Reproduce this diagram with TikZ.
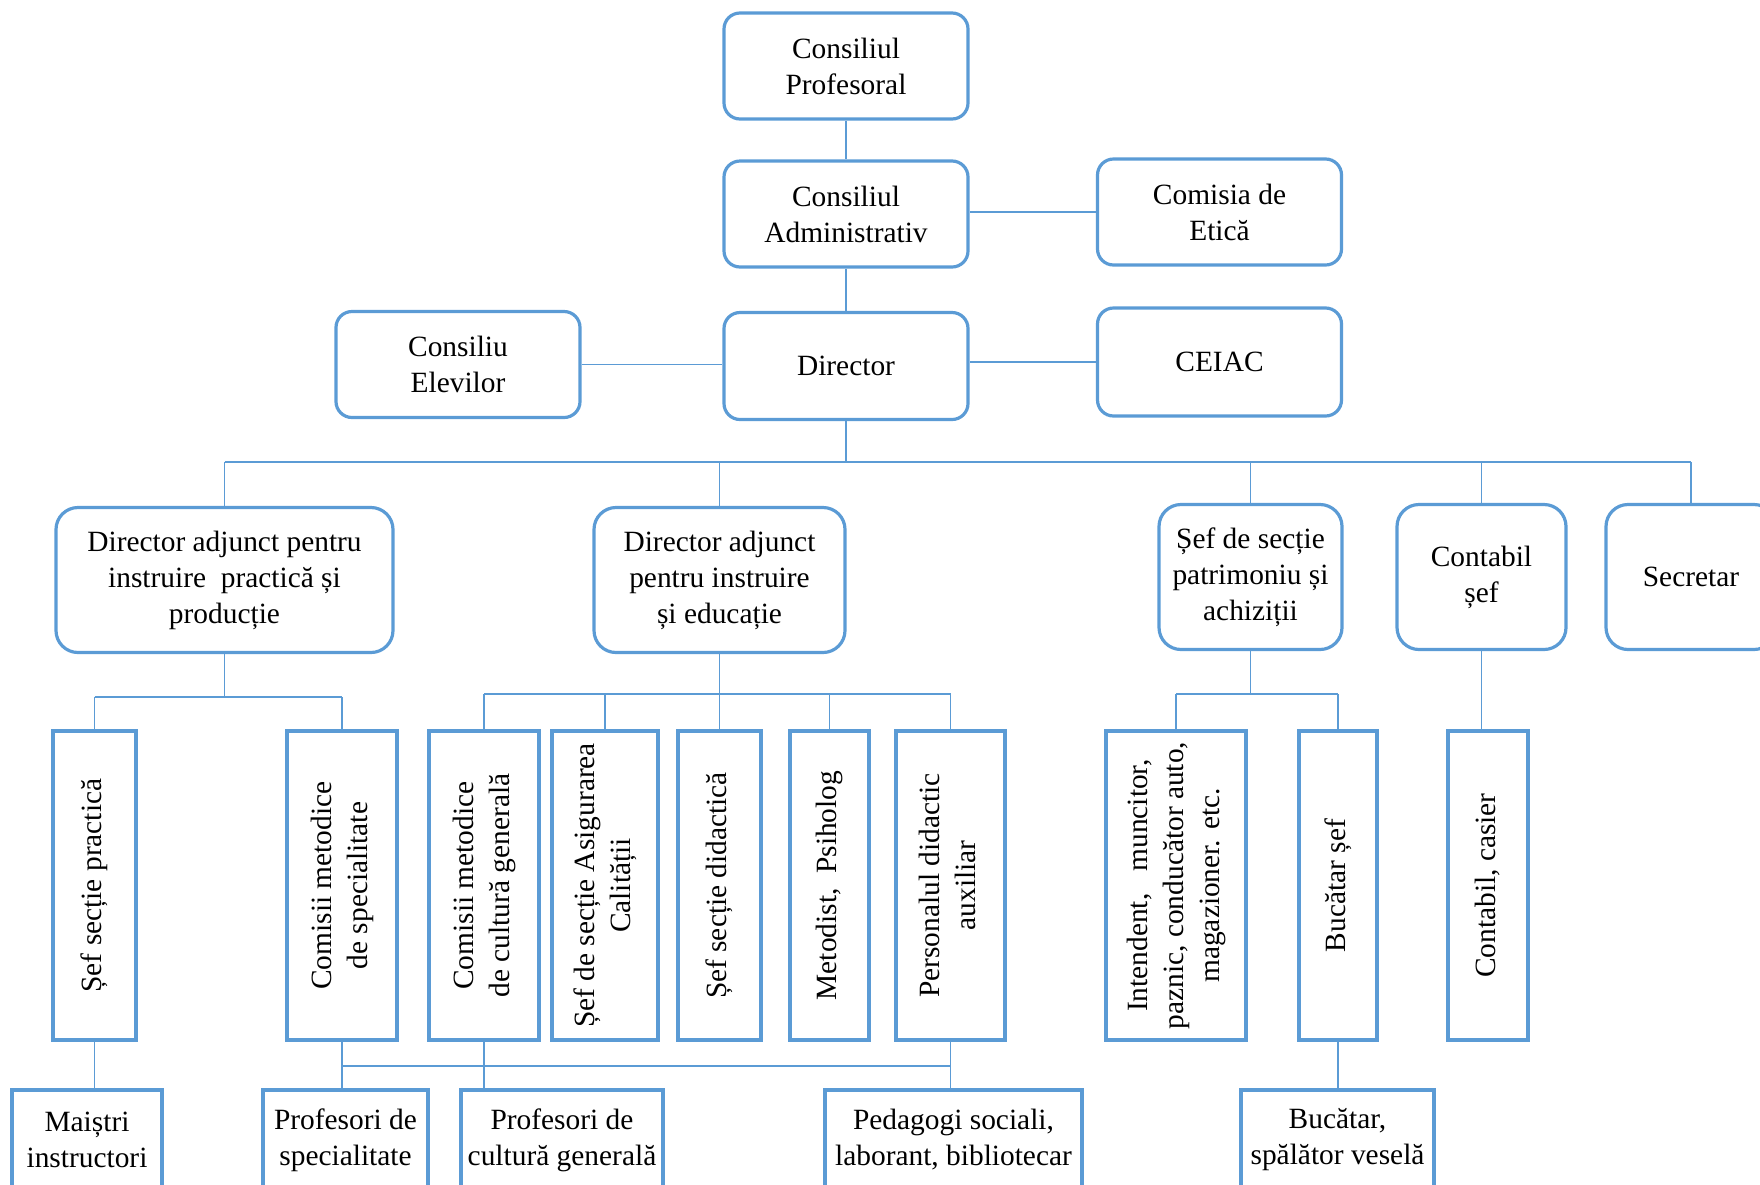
\documentclass[tikz,border=0pt]{standalone}
\usepackage{fontspec}
\setmainfont{Liberation Serif}
\usepackage{graphicx}
\usepackage{tikz}
\usetikzlibrary{positioning}
\definecolor{orgblue}{HTML}{5B9BD5}
\newcommand{\vtext}[1]{\rotatebox{90}{\begin{tabular}{@{}c@{}}#1\end{tabular}}}

\begin{document}
\begin{tikzpicture}[
    x=0.5pt, y=-0.5pt,
    font=\fontsize{14.7pt}{18pt}\selectfont,
    topbox/.style={rectangle, draw=orgblue, line width=1.6pt, rounded corners=8pt, align=center, minimum width=122pt, minimum height=53pt, inner sep=0pt},
    midbox/.style={rectangle, draw=orgblue, line width=1.6pt, rounded corners=11pt, align=center, minimum height=72.5pt, inner sep=0pt},
    vbox/.style={rectangle, draw=orgblue, line width=1.6pt, minimum height=154.5pt, inner sep=0pt},
    lowbox/.style={rectangle, draw=orgblue, line width=1.6pt, align=center, minimum height=50pt, inner sep=0pt},
    link/.style={draw=orgblue, line width=0.9pt}
]
\useasboundingbox (0,0) rectangle (1760,1184);
\clip (0,0) rectangle (1760,1184);

% top
\node[topbox] (cprof) at (846,66) {Consiliul\\Profesoral};
\node[topbox] (cadm) at (846,214) {Consiliul\\Administrativ};
\node[topbox] (etica) at (1219.5,212) {Comisia de\\Etică};
\node[topbox, minimum height=53.5pt] (director) at (846,366) {Director};
\node[topbox] (elevi) at (458,364.5) {Consiliu\\Elevilor};
\node[topbox, minimum height=54pt] (ceiac) at (1219.5,362) {CEIAC};

\draw[link] (cprof) -- (cadm);
\draw[link] (cadm) -- (director);
\draw[link] (etica.west) -- (etica.west -| cadm.east);
\draw[link] (elevi.east) -- (elevi.east -| director.west);
\draw[link] (ceiac.west) -- (ceiac.west -| director.east);

% second level
\node[midbox, minimum width=168.5pt] (dapp) at (224.5,580) {Director adjunct pentru\\instruire\ \ practică și\\producție};
\node[midbox, minimum width=125.5pt] (daie) at (719.5,580) {Director adjunct\\pentru instruire\\și educație};
\node[midbox, minimum width=91.5pt] (patrim) at (1250.5,577) {Șef de secție\\patrimoniu și\\achiziții};
\node[midbox, minimum width=84.5pt] (contab) at (1481.5,577) {Contabil\\șef};
\node[midbox, minimum width=85pt] (secretar) at (1691,577) {Secretar};

\coordinate (bus) at (846,462);
\draw[link] (director) -- (director.south |- bus);
\draw[link] (dapp.north |- bus) -- (secretar.north |- bus);
\foreach \n in {dapp,daie,patrim,contab,secretar}
    \draw[link] (\n.north |- bus) -- (\n.north);

% third level
\node[vbox, minimum width=41.5pt] (spract) at (94.5,885.5) {\vtext{Șef secție practică}};
\node[vbox, minimum width=55pt] (cmspec) at (342,885.5) {\vtext{Comisii metodice\\de specialitate}};
\node[vbox, minimum width=55pt] (cmcult) at (484,885.5) {\vtext{Comisii metodice\\de cultură generală}};
\node[vbox, minimum width=53pt] (sasig) at (605,885.5) {\vtext{Șef de secție Asigurarea\\Calității}};
\node[vbox, minimum width=41.5pt] (sdid) at (719.5,885.5) {\vtext{Șef secție didactică}};
\node[vbox, minimum width=39.5pt] (metod) at (829.5,885.5) {\vtext{Metodist,\ \ Psiholog}};
\node[vbox, minimum width=54.5pt] (pers) at (950.5,885.5) {\vtext{Personalul didactic\\auxiliar}};
\node[vbox, minimum width=70pt] (intend) at (1176,885.5) {\vtext{Intendent,\ \ \ muncitor,\\paznic, conducător auto,\\magazioner. etc.}};
\node[vbox, minimum width=39pt] (bucsef) at (1338,885.5) {\vtext{Bucătar șef}};
\node[vbox, minimum width=40pt] (ccasier) at (1488,885.5) {\vtext{Contabil, casier}};

\coordinate (ippbus) at (217,697);
\draw[link] (dapp) -- (dapp.south |- ippbus);
\draw[link] (spract.north |- ippbus) -- (cmspec.north |- ippbus);
\foreach \n in {spract,cmspec}
    \draw[link] (\n.north |- ippbus) -- (\n.north);

\coordinate (iebus) at (719.5,694);
\draw[link] (daie) -- (daie.south |- iebus);
\draw[link] (cmcult.north |- iebus) -- (pers.north |- iebus);
\foreach \n in {cmcult,sasig,sdid,metod,pers}
    \draw[link] (\n.north |- iebus) -- (\n.north);

\coordinate (patbus) at (1250.5,694);
\draw[link] (patrim) -- (patrim.south |- patbus);
\draw[link] (intend.north |- patbus) -- (bucsef.north |- patbus);
\foreach \n in {intend,bucsef}
    \draw[link] (\n.north |- patbus) -- (\n.north);

\draw[link] (contab.south) -- (contab.south |- ccasier.north);

% bottom level
\node[lowbox, minimum width=75pt] (maistri) at (87,1140) {Maiștri\\instructori};
\node[lowbox, minimum width=82.5pt] (profspec) at (345.5,1140) {Profesori de\\specialitate};
\node[lowbox, minimum width=101pt] (profcult) at (562,1140) {Profesori de\\cultură generală};
\node[lowbox, minimum width=128.5pt] (pedag) at (953.5,1140) {Pedagogi sociali,\\laborant, bibliotecar};
\node[lowbox, minimum width=96.5pt] (bucatar) at (1337.5,1140) {Bucătar,\\spălător veselă};

\coordinate (profbus) at (650,1066);
\draw[link] (spract.south) -- (spract.south |- maistri.north);
\draw[link] (cmspec.south) -- (cmspec.south |- profspec.north);
\draw[link] (cmcult.south) -- (cmcult.south |- profcult.north);
\draw[link] (pers.south) -- (pers.south |- pedag.north);
\draw[link] (cmspec.south |- profbus) -- (pers.south |- profbus);
\draw[link] (bucsef.south) -- (bucsef.south |- bucatar.north);

\end{tikzpicture}
\end{document}
